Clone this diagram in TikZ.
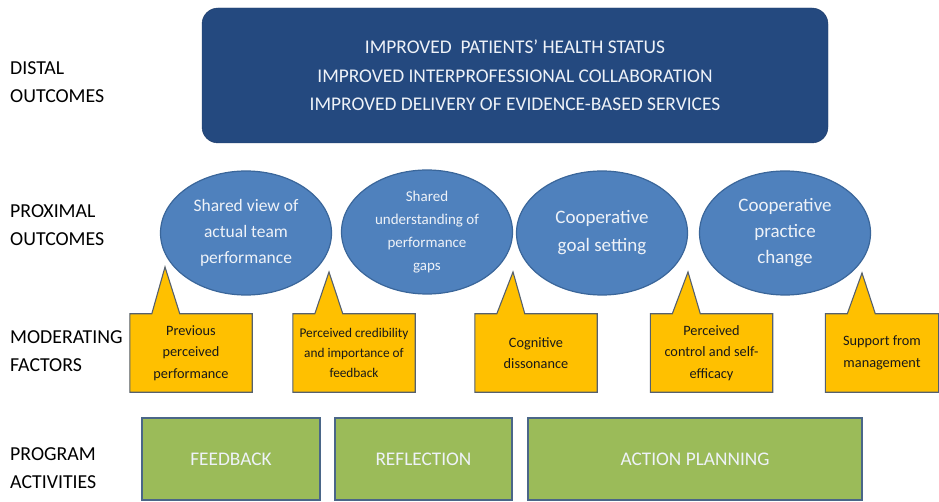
\documentclass[tikz,border=0pt]{standalone}
\usepackage{fontspec}
\setmainfont{Carlito}
\usetikzlibrary{shapes.geometric,backgrounds,calc}
\definecolor{topblue}{HTML}{24497F}
\definecolor{ellblue}{HTML}{4F81BD}
\definecolor{ellborder}{HTML}{3A669A}
\definecolor{callyellow}{HTML}{FFC000}
\definecolor{callborder}{HTML}{55606E}
\definecolor{boxgreen}{HTML}{9BBB59}
\definecolor{greenborder}{HTML}{4A6688}
\definecolor{lighttext}{HTML}{EEF2F8}
\tikzset{
  lvl/.style={anchor=west, align=left, text=black, font=\fontsize{19.8}{28}\selectfont, inner sep=0},
  topbox/.style={draw=topblue!80!black, fill=topblue, rounded corners=16pt, minimum width=626, minimum height=135, inner sep=0, text=lighttext, align=center, font=\fontsize{19.4}{28.5}\selectfont},
  oval/.style={ellipse, draw=ellborder, line width=1.2pt, fill=ellblue, minimum width=171, minimum height=124, inner sep=0, text=lighttext, align=center},
  callbox/.style={minimum width=122, minimum height=78, inner sep=0, align=center, text=black!90, font=\fontsize{14.3}{21.5}\selectfont},
  callshape/.style={draw=callborder, line width=1.1pt, fill=callyellow, line join=miter},
  actbox/.style={draw=greenborder, line width=1.2pt, fill=boxgreen, minimum height=82, inner sep=0, text=lighttext, font=\fontsize{19.3}{24}\selectfont},
}
\begin{document}
\begin{tikzpicture}[x=1pt,y=-1pt]
\useasboundingbox (0,0) rectangle (939,502);
% left labels
\node[lvl] (lab1) at (10,82) {DISTAL\\OUTCOMES};
\node[lvl] (lab2) at (10,225) {PROXIMAL\\OUTCOMES};
\node[lvl] (lab3) at (10,351) {MODERATING\\FACTORS};
\node[lvl] (lab4) at (10,468) {PROGRAM\\ACTIVITIES};
% distal outcomes
\node[topbox] (top) at (515,75.5) {IMPROVED\ \ PATIENTS’ HEALTH STATUS\\IMPROVED INTERPROFESSIONAL COLLABORATION\\IMPROVED DELIVERY OF EVIDENCE-BASED SERVICES};
% proximal outcomes
\node[oval, font=\fontsize{17.5}{26}\selectfont] (e1) at (246,233) {Shared view of\\actual team\\performance};
\node[oval, font=\fontsize{15}{23}\selectfont] (e2) at (427,232) {Shared\\understanding of\\performance\\gaps};
\node[oval, font=\fontsize{19}{28}\selectfont] (e3) at (602,233) {Cooperative\\goal setting};
\node[oval, font=\fontsize{19}{26}\selectfont] (e4) at (785,233) {Cooperative\\practice\\change};
% moderating factors
\node[callbox] (y1) at (191,353) {Previous\\perceived\\performance};
\node[callbox, font=\fontsize{13.3}{20}\selectfont] (y2) at (354,353) {Perceived credibility\\and importance of\\feedback};
\node[callbox] (y3) at (536,353) {Cognitive\\dissonance};
\node[callbox] (y4) at (711.5,353) {Perceived\\control and self-\\efficacy};
\node[callbox, minimum width=113] (y5) at (882,353) {Support from\\management};
\coordinate (t1) at (165,267);
\coordinate (t2) at (329,272);
\coordinate (t3) at (513,272);
\coordinate (t4) at (688,272);
\coordinate (t5) at (862,273);
\begin{scope}[on background layer]
\foreach \n in {1,...,5}{
  \draw[callshape] (y\n.south west) -- (y\n.north west) -- ($(y\n.north west)+(22,0)$) -- (t\n) -- ($(y\n.north west)+(50,0)$) -- (y\n.north east) -- (y\n.south east) -- cycle;
}
\end{scope}
% program activities
\node[actbox, minimum width=178] (g1) at (231,459) {FEEDBACK};
\node[actbox, minimum width=177] (g2) at (423.5,459) {REFLECTION};
\node[actbox, minimum width=334] (g3) at (695,459) {ACTION PLANNING};
\end{tikzpicture}
\end{document}
